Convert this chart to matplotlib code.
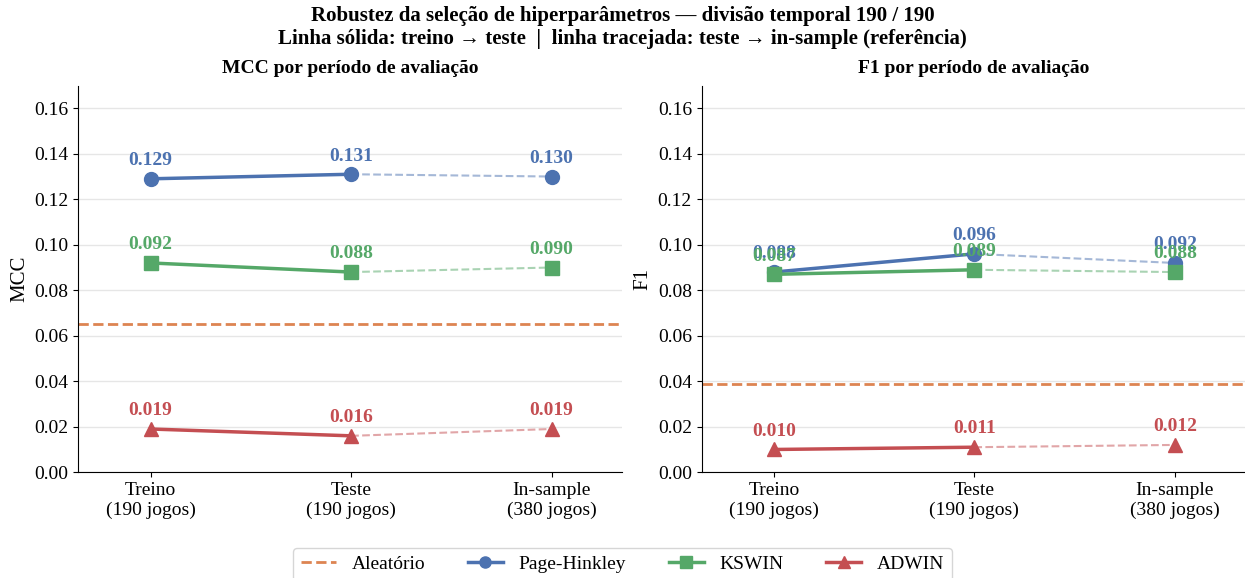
import matplotlib.pyplot as plt
import numpy as np

plt.rcParams["font.family"] = ["Liberation Serif", "DejaVu Serif"]

periods = ["Treino\n(190 jogos)", "Teste\n(190 jogos)", "In-sample\n(380 jogos)"]
detectors = ["Page-Hinkley", "KSWIN", "ADWIN"]

mcc_values = {
    "Page-Hinkley": [0.129, 0.131, 0.130],
    "KSWIN": [0.092, 0.088, 0.090],
    "ADWIN": [0.019, 0.016, 0.019],
}
f1_values = {
    "Page-Hinkley": [0.088, 0.096, 0.092],
    "KSWIN": [0.087, 0.089, 0.088],
    "ADWIN": [0.010, 0.011, 0.012],
}
random_mcc = 0.065
random_f1 = 0.039

colors = {"Page-Hinkley": "#4C72B0", "KSWIN": "#55A868", "ADWIN": "#C44E52"}
markers = {"Page-Hinkley": "o", "KSWIN": "s", "ADWIN": "^"}
random_color = "#DD8452"

fig, axes = plt.subplots(1, 2, figsize=(12.45, 5.78), dpi=100)
x = np.arange(len(periods))

panels = [
    (axes[0], mcc_values, random_mcc, "MCC", "MCC por período de avaliação"),
    (axes[1], f1_values, random_f1, "F1", "F1 por período de avaliação"),
]

for ax, values, rnd, ylabel, title in panels:
    ax.axhline(rnd, color=random_color, linestyle="--", linewidth=2, label="Aleatório")
    for det in detectors:
        v = values[det]
        c = colors[det]
        # train -> test solid, test -> in-sample dashed
        ax.plot(x[:2], v[:2], color=c, linewidth=2.5, marker=markers[det],
                markersize=10, label=det)
        ax.plot(x[1:], v[1:], color=c, linewidth=1.5, linestyle="--", alpha=0.5)
        ax.plot(x[2], v[2], color=c, marker=markers[det], markersize=10, linestyle="none")
        for xi, yi in zip(x, v):
            ax.annotate(f"{yi:.3f}", (xi, yi), xytext=(0, 7), textcoords="offset points",
                        ha="center", va="bottom", fontsize=14, fontweight="bold", color=c)
    ax.set_xticks(x)
    ax.set_xticklabels(periods, fontsize=14)
    ax.set_xlim(-0.36, 2.35)
    ax.set_ylim(0, 0.17)
    ticks = np.arange(0, 0.161, 0.02)
    ax.set_yticks(ticks)
    ax.set_yticklabels([f"{t:.2f}" for t in ticks], fontsize=14)
    ax.set_ylabel(ylabel, fontsize=15)
    ax.set_title(title, fontsize=14, fontweight="bold", pad=9)
    ax.grid(True, axis="y", color="#e6e6e6", linewidth=1)
    ax.set_axisbelow(True)
    ax.spines["top"].set_visible(False)
    ax.spines["right"].set_visible(False)

handles, labels = axes[0].get_legend_handles_labels()
fig.legend(handles, labels, loc="lower center", ncol=4, fontsize=14, markerscale=0.8,
           bbox_to_anchor=(0.5, -0.022), frameon=True, columnspacing=2.2,
           handlelength=1.8)

fig.suptitle("Robustez da seleção de hiperparâmetros — divisão temporal 190 / 190\n"
             "Linha sólida: treino → teste  |  linha tracejada: teste → in-sample (referência)",
             fontsize=15, fontweight="bold", y=0.99)

fig.subplots_adjust(left=0.063, right=1.0, top=0.852, bottom=0.183, wspace=0.147)
fig.savefig("out.png", dpi=100)
